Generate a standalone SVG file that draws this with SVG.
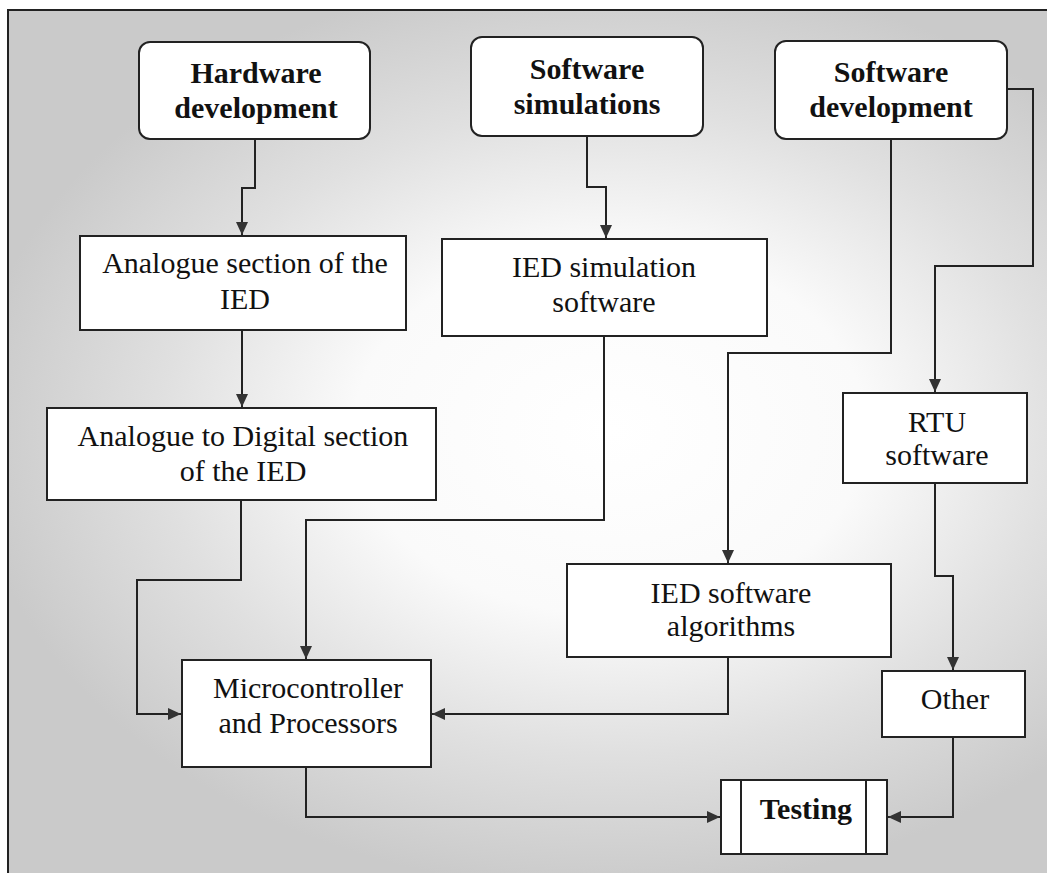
<svg xmlns="http://www.w3.org/2000/svg" width="1047" height="873" viewBox="0 0 1047 873">
<defs>
<radialGradient id="bg" cx="610" cy="430" r="640" gradientUnits="userSpaceOnUse" gradientTransform="translate(610 430) scale(1 0.72) translate(-610 -430)">
<stop offset="0" stop-color="#ffffff"/>
<stop offset="0.4" stop-color="#fafafa"/>
<stop offset="0.7" stop-color="#e0e0e0"/>
<stop offset="1" stop-color="#cacaca"/>
</radialGradient>
<marker id="ah" viewBox="0 0 13 13" refX="13" refY="6.5" markerWidth="13" markerHeight="13" markerUnits="userSpaceOnUse" orient="auto">
<path d="M0,0.5 L13,6.5 L0,12.5 Z" fill="#333"/>
</marker>
<style>
.box{fill:#fff;stroke:#222;stroke-width:2}
.t{font-family:"Liberation Serif","Times New Roman",serif;font-size:30px;fill:#111;text-anchor:middle}
.b{font-weight:bold}
.c{fill:none;stroke:#222;stroke-width:2}
.ca{fill:none;stroke:#222;stroke-width:2;marker-end:url(#ah)}
</style>
</defs>
<rect x="0" y="0" width="1047" height="873" fill="#fff"/>
<rect x="8" y="10" width="1039" height="863" fill="url(#bg)"/>
<path d="M8,873 V10 H1047" fill="none" stroke="#222" stroke-width="2"/>

<g id="connectors">
<path class="ca" d="M255,139 V188 H242 V235"/>
<path class="ca" d="M587,136 V187 H606 V238"/>
<path class="ca" d="M891,139 V353 H728 V563"/>
<path class="ca" d="M1007,89 H1033 V266 H935 V392"/>
<path class="ca" d="M242,330 V407"/>
<path class="ca" d="M241,500 V580 H137 V714 H181"/>
<path class="ca" d="M604,336 V520 H306 V659"/>
<path class="ca" d="M728,657 V714 H432"/>
<path class="ca" d="M306,767 V817 H720"/>
<path class="ca" d="M935,483 V576 H953 V670"/>
<path class="ca" d="M953,737 V817 H888"/>
</g>

<g id="hardware-development">
<rect class="box" x="139" y="42" width="231" height="97" rx="11"/>
<text class="t b" x="256" y="83">Hardware</text>
<text class="t b" x="256" y="118">development</text>
</g>
<g id="software-simulations">
<rect class="box" x="471" y="37" width="232" height="99" rx="11"/>
<text class="t b" x="587" y="79">Software</text>
<text class="t b" x="587" y="114">simulations</text>
</g>
<g id="software-development">
<rect class="box" x="775" y="41" width="232" height="98" rx="11"/>
<text class="t b" x="891" y="82">Software</text>
<text class="t b" x="891" y="117">development</text>
</g>
<g id="analogue-section">
<rect class="box" x="80" y="236" width="326" height="94"/>
<text class="t" x="245" y="273">Analogue section of the</text>
<text class="t" x="245" y="309">IED</text>
</g>
<g id="ied-simulation-software">
<rect class="box" x="442" y="239" width="325" height="97"/>
<text class="t" x="604" y="277">IED simulation</text>
<text class="t" x="604" y="312">software</text>
</g>
<g id="analogue-to-digital">
<rect class="box" x="47" y="408" width="389" height="92"/>
<text class="t" x="243" y="446">Analogue to Digital section</text>
<text class="t" x="243" y="481">of the IED</text>
</g>
<g id="rtu-software">
<rect class="box" x="843" y="393" width="184" height="90"/>
<text class="t" x="937" y="432">RTU</text>
<text class="t" x="937" y="465">software</text>
</g>
<g id="ied-software-algorithms">
<rect class="box" x="567" y="564" width="324" height="93"/>
<text class="t" x="731" y="603">IED software</text>
<text class="t" x="731" y="636">algorithms</text>
</g>
<g id="microcontroller">
<rect class="box" x="182" y="660" width="249" height="107"/>
<text class="t" x="308" y="698">Microcontroller</text>
<text class="t" x="308" y="733">and Processors</text>
</g>
<g id="other">
<rect class="box" x="882" y="671" width="143" height="66"/>
<text class="t" x="955" y="709">Other</text>
</g>
<g id="testing">
<rect class="box" x="721" y="780" width="166" height="74"/>
<path class="c" d="M741,780 V854 M866,780 V854"/>
<text class="t b" x="806" y="819">Testing</text>
</g>
</svg>
